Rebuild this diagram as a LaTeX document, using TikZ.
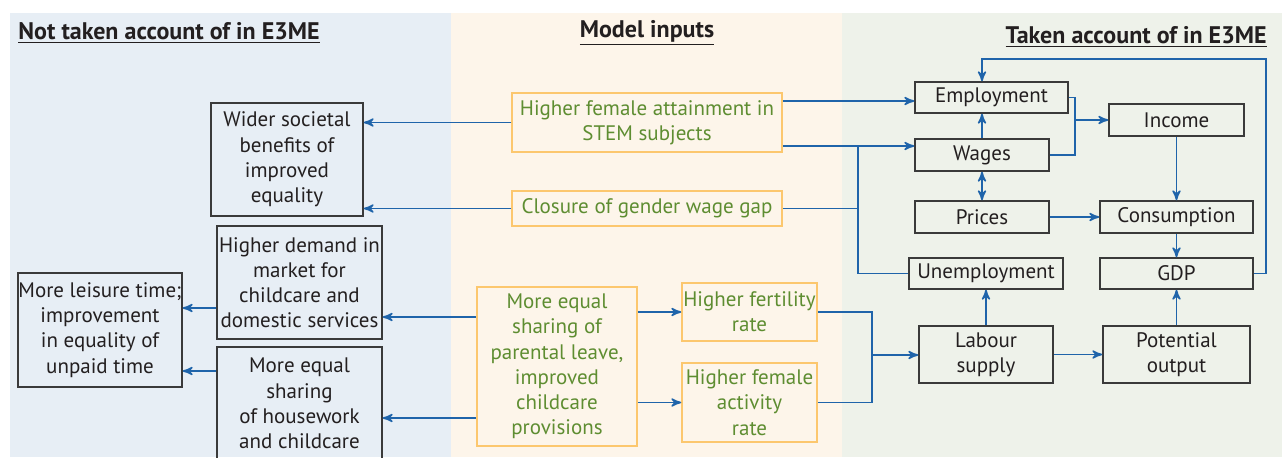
\documentclass[tikz,border=0pt]{standalone}
\usepackage{fontspec}
\setmainfont{PT Sans}
\usepackage{tikz}
\usetikzlibrary{arrows,positioning}
\tikzset{
	>=stealth',
}
\definecolor{paneblue}{HTML}{E7EEF5}
\definecolor{paneorange}{HTML}{FDF5EA}
\definecolor{panegreen}{HTML}{EEF2EA}
\definecolor{linkblue}{HTML}{1F64AA}
\definecolor{inputorange}{HTML}{FCC76E}
\definecolor{inputgreen}{HTML}{5E8D31}
\definecolor{boxgrey}{HTML}{3A3A3A}
\definecolor{textdark}{HTML}{231F20}

\begin{document}
\begin{tikzpicture}[x=0.5pt, y=-0.5pt, font=\fontsize{10.5}{12.6}\selectfont,
	effect/.style = {draw=boxgrey, line width=0.75pt, text=textdark, align=center, inner sep=0},
	input/.style = {draw=inputorange, line width=0.75pt, text=inputgreen, align=center, inner sep=0},
	head/.style = {text=textdark, font=\fontsize{12}{14}\selectfont\bfseries, inner sep=0},
	link/.style = {draw=linkblue, line width=0.8pt}]
\useasboundingbox (0,0) rectangle (1282,457);
% panels
\fill[white] (0,0) rectangle (1282,457);
\fill[paneblue] (10,13) rectangle (451,457);
\fill[paneorange] (451,13) rectangle (842,457);
\fill[panegreen] (842,13) rectangle (1282,457);
\node[head,anchor=west] (notheader) at (18,33) {\underline{Not taken account of in E3ME}};
\node[head] (inheader) at (647,33) {\underline{Model inputs}};
\node[head,anchor=east] (takenheader) at (1267,37) {\underline{Taken account of in E3ME}};

% model inputs
\node[input,minimum width=135pt,minimum height=29.5pt] (stem) at (647,122.5) {Higher female attainment in\\STEM subjects};
\node[input,minimum width=135pt,minimum height=17.5pt] (closure) at (647,208.5) {Closure of gender wage gap};
\node[input,minimum width=80pt,minimum height=79.5pt] (sharing) at (557,366.5) {More equal\\sharing of\\parental leave,\\improved\\childcare\\provisions};
\node[input,minimum width=67.5pt,minimum height=29pt] (fertility) at (749.5,312) {Higher fertility\\rate};
\node[input,minimum width=67.5pt,minimum height=39.5pt] (activity) at (749.5,402.5) {Higher female\\activity\\rate};

% not taken account of
\node[effect,minimum width=76pt,minimum height=56.5pt] (wider) at (287,159.5) {Wider societal\\benefits of\\improved\\equality};
\node[effect,minimum width=82.5pt,minimum height=56.5pt] (demand) at (299.5,282.5) {Higher demand in\\market for\\childcare and\\domestic services};
\node[effect,minimum width=82.5pt,minimum height=56.5pt] (housework) at (299.5,403.5) {More equal\\sharing\\of housework\\and childcare};
\node[effect,minimum width=82pt,minimum height=57pt] (leisure) at (100,330) {More leisure time;\\improvement\\in equality of\\unpaid time};

% taken account of
\node[effect,minimum width=76.5pt,minimum height=15.5pt] (employment) at (991.5,97.5) {Employment};
\node[effect,minimum width=67.5pt,minimum height=16pt] (income) at (1176.5,120) {Income};
\node[effect,minimum width=67pt,minimum height=16pt] (wages) at (982,155) {Wages};
\node[effect,minimum width=67pt,minimum height=16pt] (prices) at (982,217) {Prices};
\node[effect,minimum width=76.5pt,minimum height=16pt] (consumption) at (1176.5,217) {Consumption};
\node[effect,minimum width=77pt,minimum height=15.5pt] (unemployment) at (986,273.5) {Unemployment};
\node[effect,minimum width=76.5pt,minimum height=15.5pt] (gdp) at (1176.5,273.5) {GDP};
\node[effect,minimum width=67pt,minimum height=28.5pt] (labour) at (986,354.5) {Labour\\supply};
\node[effect,minimum width=73.5pt,minimum height=28.5pt] (potential) at (1176.5,354.5) {Potential\\output};

\coordinate (wagejoin) at (858,146);
\coordinate (incomejoin) at (1075,120);
\coordinate (labourjoin) at (872,355);
\coordinate (loop) at (1266,59);

% links to the left
\draw[link,->] (stem.west) -- (stem.west -| wider.east);
\draw[link,->] (closure.west) -- (closure.west -| wider.east);
\draw[link,<-] ([yshift=-17.25pt]demand.east) -- ([yshift=-17.25pt]demand.east -| sharing.west);
\draw[link,<-] ([yshift=-7.25pt]housework.east) -- ([yshift=-7.25pt]housework.east -| sharing.west);
\draw[link,->] ([yshift=-12.75pt]demand.west) -- ([yshift=-12.75pt]demand.west -| leisure.east);
\draw[link,->] ([yshift=16.25pt]housework.west) -- ([yshift=16.25pt]housework.west -| leisure.east);

% links within the inputs
\draw[link,->] (sharing.east |- fertility) -- (fertility.west);
\draw[link,->] (sharing.east |- activity) -- (activity.west);

% links to the right
\draw[link,->] ([yshift=10.75pt]stem.east) -- ([yshift=10.75pt]stem.east -| employment.west);
\draw[link,->] ([yshift=-11.75pt]stem.east) -- ([yshift=4.5pt]wages.west);
\draw[link] (closure.east) -| (wagejoin);
\draw[link] (unemployment.west) -| (wagejoin);
\draw[link] (fertility.east) -| (labourjoin);
\draw[link] (activity.east) -| (labourjoin);
\draw[link,->] (labourjoin) -- (labour.west |- labourjoin);

% model links
\draw[link,->] (employment.east) -| (incomejoin) -- (income.west);
\draw[link] (wages.east) -| (incomejoin);
\draw[link,->] (wages.north) -- (wages.north |- employment.south);
\draw[link,<->] (wages.south) -- (prices.north);
\draw[link,->] (prices) -- (consumption);
\draw[link,->] (income) -- (consumption);
\draw[link,->] (consumption) -- (gdp);
\draw[link,->] (labour) -- (unemployment);
\draw[link,->] (potential) -- (gdp);
\draw[link,->] (labour) -- (potential);
\draw[link,->] (gdp.east) -| (loop) -| ([xshift=-4.75pt]employment.north);
\end{tikzpicture}
\end{document}
